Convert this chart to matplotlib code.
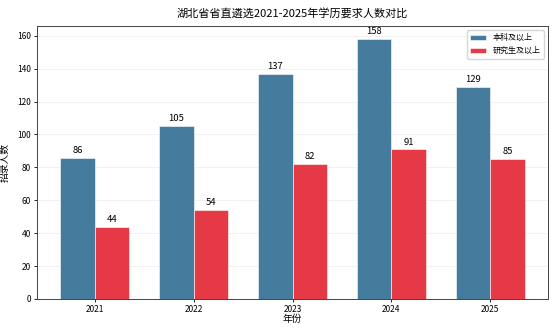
import matplotlib.pyplot as plt
import numpy as np

plt.rcParams['font.family'] = ['Noto Sans CJK SC', 'DejaVu Sans']

years = ['2021', '2022', '2023', '2024', '2025']
bachelor = [86, 105, 137, 158, 129]
graduate = [44, 54, 82, 91, 85]

x = np.arange(len(years))
w = 0.35

fig, ax = plt.subplots(figsize=(5.53, 3.3), dpi=100)
b1 = ax.bar(x - w / 2, bachelor, w, color='#457b9d', edgecolor='white',
            linewidth=0.4, label='本科及以上')
b2 = ax.bar(x + w / 2, graduate, w, color='#e63946', edgecolor='white',
            linewidth=0.4, label='研究生及以上')

for bars in (b1, b2):
    for rect in bars:
        h = rect.get_height()
        ax.annotate(f'{int(h)}', (rect.get_x() + rect.get_width() / 2, h),
                    xytext=(0, 2), textcoords='offset points',
                    ha='center', va='bottom', fontsize=6.8)

ax.set_title('湖北省省直遴选2021-2025年学历要求人数对比', fontsize=8, pad=7)
ax.set_xlabel('年份', fontsize=7, labelpad=0)
ax.set_ylabel('招录人数', fontsize=7, labelpad=5)
ax.set_xticks(x)
ax.set_xticklabels(years)
ax.tick_params(labelsize=6, length=2.5, width=0.6, pad=2)
for s in ax.spines.values():
    s.set_linewidth(0.7)
    s.set_color('#444444')
ax.set_ylim(0, 165.9)
ax.grid(axis='y', alpha=0.25, linewidth=0.5)
ax.set_axisbelow(True)
ax.legend(fontsize=5.8, loc='upper right')

plt.subplots_adjust(left=0.067, right=0.991, top=0.921, bottom=0.094)
plt.savefig('out.png', dpi=100)
